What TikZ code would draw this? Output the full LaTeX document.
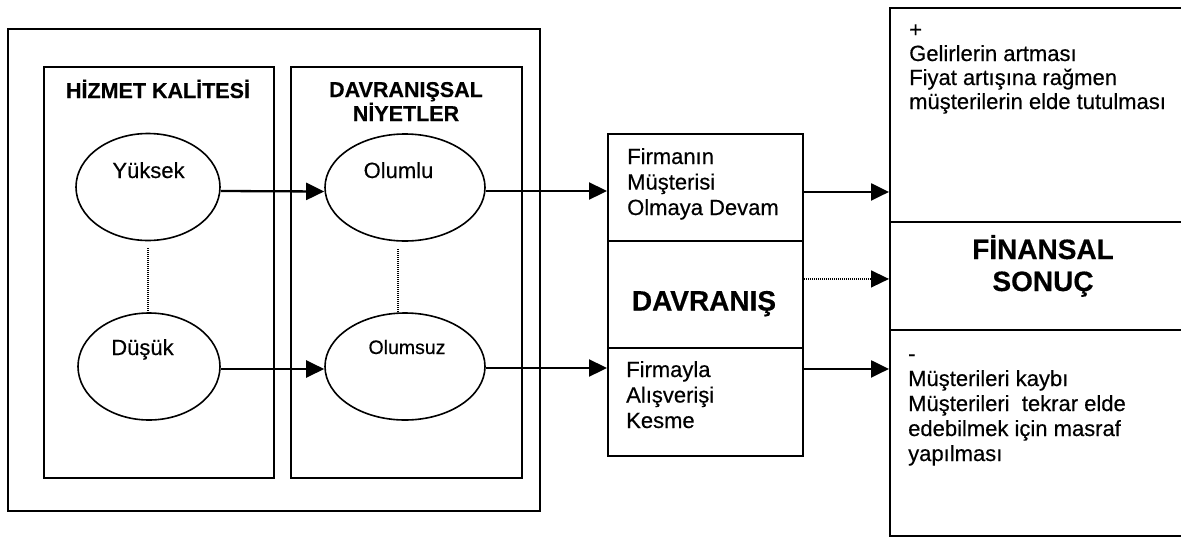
\documentclass[tikz,border=0pt]{standalone}
\usepackage{fontspec}
\setmainfont{Liberation Sans}[FakeBold=0.4]
\usetikzlibrary{shapes.geometric,arrows.meta,calc}

\begin{document}
\begin{tikzpicture}[x=1pt,y=-1pt,
  cell/.style={draw, line width=1.9pt, rectangle, inner sep=0pt, anchor=north west},
  oval/.style={draw, ellipse, line width=1.6pt, inner sep=0pt},
  arr/.style={line width=2.3pt, -{Triangle[length=18pt,width=17pt]}},
  darr/.style={line width=1.5pt, dash pattern=on 1.2pt off 0.8pt, -{Triangle[length=18pt,width=17pt]}},
  dots/.style={line width=1.2pt, dash pattern=on 1pt off 1pt},
  txt/.style={inner sep=0pt, anchor=base west, font=\fontsize{22}{25}\selectfont},
  ctxt/.style={inner sep=0pt, anchor=base, font=\fontsize{22}{25}\selectfont},
  ttl/.style={inner sep=0pt, anchor=base, font=\bfseries\fontsize{21.5}{24}\selectfont},
  big/.style={inner sep=0pt, anchor=base, font=\bfseries\fontsize{28}{32}\selectfont},
]
\useasboundingbox (0,0) rectangle (1181,544);
\clip (0,0) rectangle (1181,544);

% outer frame and the two column frames
\node[cell, minimum width=532pt, minimum height=482pt] (outer) at (7,28) {};
\node[cell, minimum width=230pt, minimum height=411pt] (colA) at (43,66) {};
\node[cell, minimum width=231pt, minimum height=411pt] (colB) at (290,66) {};

\node[ttl] (hk) at (158,98) {HİZMET KALİTESİ};
\node[ttl] (dn1) at (406,97) {DAVRANIŞSAL};
\node[ttl] (dn2) at (406,121) {NİYETLER};

% ellipses
\node[oval, minimum width=144pt, minimum height=107pt] (yuksek) at (148,187) {};
\node[oval, minimum width=160pt, minimum height=107pt] (olumlu) at (405,187.5) {};
\node[oval, minimum width=142pt, minimum height=107pt] (dusuk) at (149,366.5) {};
\node[oval, minimum width=160pt, minimum height=107pt] (olumsuz) at (405,366.5) {};

\node[ctxt] (yuksekt) at (148.5,178) {Yüksek};
\node[ctxt] (olumlut) at (398.5,178) {Olumlu};
\node[ctxt] (dusukt) at (142.5,355) {Düşük};
\node[ctxt, font=\fontsize{19.5}{22}\selectfont] (olumsuzt) at (407,354) {Olumsuz};

\draw[dots] ([yshift=-7pt]yuksek.south) -- (yuksek.south |- dusuk.north);
\draw[dots] ([xshift=-7pt,yshift=-7pt]olumlu.south) -- ([xshift=-7pt]olumsuz.north);

% behaviour column
\node[cell, minimum width=195pt, minimum height=107pt] (firm) at (607,133) {};
\node[cell, minimum width=195pt, minimum height=107pt] (davr) at (607,240) {};
\node[cell, minimum width=195pt, minimum height=108pt] (kesme) at (607,347) {};

\node[txt] (f1) at (627,164) {Firmanın};
\node[txt] (f2) at (627,189.5) {Müşterisi};
\node[txt] (f3) at (627,215) {Olmaya Devam};
\node[big] (dv) at (704,310.5) {DAVRANIŞ};
\node[txt] (k1) at (626,377) {Firmayla};
\node[txt] (k2) at (626,402.5) {Alışverişi};
\node[txt] (k3) at (626,428) {Kesme};

% financial outcome column
\node[cell, minimum width=310pt, minimum height=214pt] (gain) at (889,7) {};
\node[cell, minimum width=310pt, minimum height=108pt] (fin) at (889,221) {};
\node[cell, minimum width=310pt, minimum height=206pt] (loss) at (889,329) {};

\node[txt] (g0) at (909,37) {+};
\node[txt] (g1) at (909,61) {Gelirlerin artması};
\node[txt] (g2) at (909,85) {Fiyat artışına rağmen};
\node[txt] (g3) at (909,109) {müşterilerin elde tutulması};
\node[big] (fn1) at (1043,259) {FİNANSAL};
\node[big] (fn2) at (1043,291) {SONUÇ};
\node[txt] (l0) at (908,361) {-};
\node[txt] (l1) at (908,386) {Müşterileri kaybı};
\node[txt] (l2) at (908,411) {Müşterileri\ \ tekrar elde};
\node[txt] (l3) at (908,436) {edebilmek için masraf};
\node[txt] (l4) at (908,461) {yapılması};

% connectors
\draw[arr] ([yshift=-4pt]yuksek.east) -- ([yshift=-4pt]olumlu.west);
\draw[arr] ([yshift=-2.5pt]dusuk.east) -- ([yshift=-2.5pt]olumsuz.west);
\draw[arr] ([yshift=-3.5pt]olumlu.east) -- ([yshift=-3.5pt]olumlu.east -| firm.west);
\draw[arr] ([yshift=-1.5pt]olumsuz.east) -- ([yshift=-1.5pt]olumsuz.east -| kesme.west);
\draw[arr] ([yshift=-4.5pt]firm.east) -- ([yshift=-4.5pt]firm.east -| gain.west);
\draw[darr] ([yshift=15.5pt]davr.east) -- ([yshift=15.5pt]davr.east -| fin.west);
\draw[arr] ([yshift=33pt]kesme.east) -- ([yshift=33pt]kesme.east -| loss.west);
\end{tikzpicture}
\end{document}
